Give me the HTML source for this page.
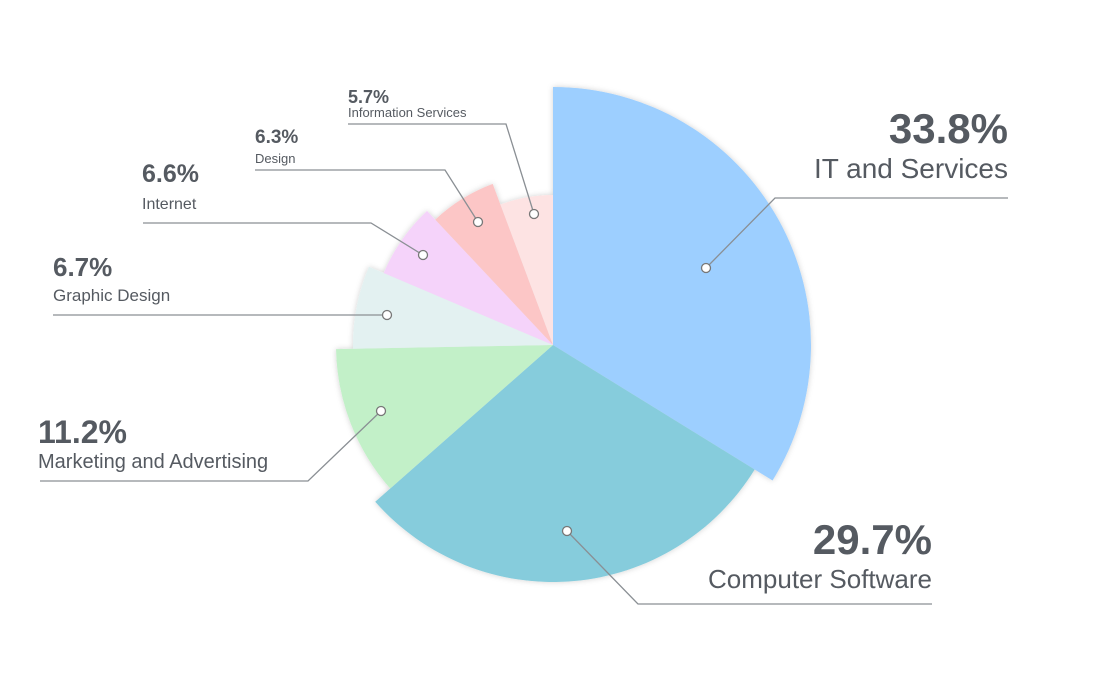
<!DOCTYPE html>
<html><head><meta charset="utf-8"><style>
html,body{margin:0;padding:0;background:#fff;width:1109px;height:689px;overflow:hidden}
svg text{font-family:"Liberation Sans",sans-serif;fill:#555a61}
.b{font-weight:bold}
</style></head><body>
<svg id="s" width="1109" height="689" viewBox="0 0 1109 689" xmlns="http://www.w3.org/2000/svg">
<defs><filter id="sh" x="-20%" y="-20%" width="140%" height="140%"><feDropShadow dx="0" dy="0" stdDeviation="3" flood-color="#000" flood-opacity="0.18"/></filter></defs>
<g id="pie" filter="url(#sh)"></g>
<g fill="none" stroke="#8a8f94" stroke-width="1.3">
<polyline points="706,268 775,198 1008,198"/>
<polyline points="567,531 638,604 932,604"/>
<polyline points="381,411 308,481 40,481"/>
<polyline points="387,315 53,315"/>
<polyline points="423,255 371,223 143,223"/>
<polyline points="478,222 445,170 255,170"/>
<polyline points="534,214 506,124 348,124"/>
</g>
<g fill="#fff" stroke="#777" stroke-width="1.3">
<circle cx="706" cy="268" r="4.5"/><circle cx="567" cy="531" r="4.5"/><circle cx="381" cy="411" r="4.5"/>
<circle cx="387" cy="315" r="4.5"/><circle cx="423" cy="255" r="4.5"/><circle cx="478" cy="222" r="4.5"/><circle cx="534" cy="214" r="4.5"/>
</g>
<text class="b" x="1008" y="143" font-size="42" text-anchor="end">33.8%</text>
<text x="1008" y="178" font-size="28" text-anchor="end">IT and Services</text>
<text class="b" x="932" y="554" font-size="42" text-anchor="end">29.7%</text>
<text x="932" y="588" font-size="26" text-anchor="end">Computer Software</text>
<text class="b" x="38" y="443" font-size="32">11.2%</text>
<text x="38" y="468" font-size="20">Marketing and Advertising</text>
<text class="b" x="53" y="276" font-size="26">6.7%</text>
<text x="53" y="301" font-size="17">Graphic Design</text>
<text class="b" x="142" y="182" font-size="25">6.6%</text>
<text x="142" y="209" font-size="16">Internet</text>
<text class="b" x="255" y="143" font-size="19">6.3%</text>
<text x="255" y="163" font-size="13">Design</text>
<text class="b" x="348" y="103" font-size="18">5.7%</text>
<text x="348" y="117" font-size="13">Information Services</text>
</svg>
<script>
var cx=553,cy=345,d=[[33.8,258,"#9dcfff"],[29.7,237,"#86ccdc"],[11.2,217,"#c2f0c8"],[6.7,200,"#e3f1f1"],[6.6,184,"#f5d3fa"],[6.3,172,"#fcc6c6"],[5.7,150,"#fde3e3"]];
var tot=0;d.forEach(function(x){tot+=x[0]});var a=0,h="";
d.forEach(function(x){var s=a,e=a+x[0]/tot*2*Math.PI;a=e;var r=x[1];
var x1=cx+r*Math.sin(s),y1=cy-r*Math.cos(s),x2=cx+r*Math.sin(e),y2=cy-r*Math.cos(e);
h+='<path d="M'+cx+','+cy+' L'+x1+','+y1+' A'+r+','+r+' 0 '+((e-s)>Math.PI?1:0)+' 1 '+x2+','+y2+' Z" fill="'+x[2]+'"/>';});
document.getElementById("pie").innerHTML=h;
</script>
</body></html>
